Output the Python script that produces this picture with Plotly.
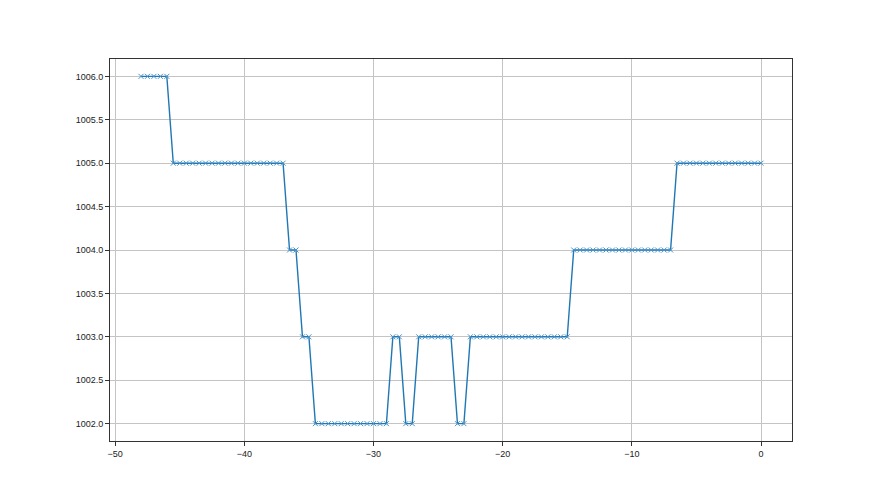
import numpy as np
import plotly.graph_objects as go

# time offsets (hours) and pressure values (hPa)
x_vals = [-48 + 0.5 * i for i in range(97)]
pressure = (
    [1006] * 5 +
    [1005] * 18 +
    [1004] * 2 +
    [1003] * 2 +
    [1002] * 12 +
    [1003] * 2 +
    [1002] * 2 +
    [1003] * 6 +
    [1002] * 2 +
    [1003] * 16 +
    [1004] * 16 +
    [1005] * 14
)

x_ticks = [-50, -40, -30, -20, -10, 0]
y_ticks = [1002.0, 1002.5, 1003.0, 1003.5, 1004.0, 1004.5, 1005.0, 1005.5, 1006.0]

fig = go.Figure()
fig.add_trace(go.Scatter(
    x=x_vals, y=pressure, mode="lines+markers",
    line=dict(color="#1f77b4", width=1.4),
    marker=dict(symbol="x-thin", size=5, line=dict(color="#4a93c8", width=1)),
    showlegend=False,
))

axis_common = dict(
    showgrid=True, gridcolor="#c4c4c4", gridwidth=1,
    showline=True, linecolor="#333333", linewidth=1, mirror=True,
    ticks="outside", ticklen=4, tickcolor="#333333", tickwidth=1,
    zeroline=False,
    tickfont=dict(family="Liberation Sans", size=9, color="#222222"),
)

fig.update_xaxes(range=[-50.4, 2.4], tickvals=x_ticks,
                 ticktext=["\u221250", "\u221240", "\u221230", "\u221220", "\u221210", "0"],
                 **axis_common)
fig.update_yaxes(range=[1001.8, 1006.2], tickvals=y_ticks,
                 ticktext=[f"{v:.1f}" for v in y_ticks], **axis_common)

fig.update_layout(
    width=880, height=495,
    margin=dict(l=102, r=96, t=51, b=62),
    paper_bgcolor="white", plot_bgcolor="white",
)

fig.write_html("out.html")
